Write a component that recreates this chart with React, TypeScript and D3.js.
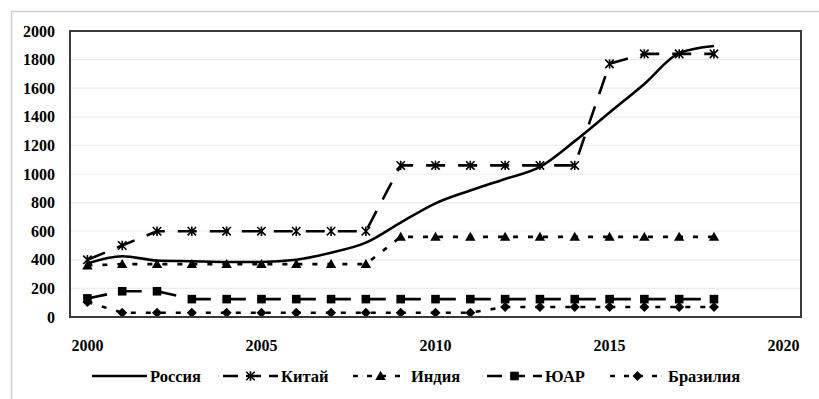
import React, { useEffect, useRef } from "react";
import * as d3 from "d3";

const years = [2000, 2001, 2002, 2003, 2004, 2005, 2006, 2007, 2008, 2009, 2010, 2011, 2012, 2013, 2014, 2015, 2016, 2017, 2018];
const russia = [375, 425, 395, 390, 385, 385, 400, 450, 520, 660, 795, 885, 965, 1050, 1230, 1430, 1630, 1845, 1895];
const china = [400, 500, 600, 600, 600, 600, 600, 600, 600, 1060, 1060, 1060, 1060, 1060, 1060, 1770, 1840, 1840, 1840];
const india = [360, 370, 370, 370, 370, 370, 370, 370, 370, 560, 560, 560, 560, 560, 560, 560, 560, 560, 560];
const sar = [130, 180, 180, 125, 125, 125, 125, 125, 125, 125, 125, 125, 125, 125, 125, 125, 125, 125, 125];
const brazil = [105, 30, 30, 30, 30, 30, 30, 30, 30, 30, 30, 30, 70, 70, 70, 70, 70, 70, 70];
const seriesNames = ["Россия", "Китай", "Индия", "ЮАР", "Бразилия"];
const yTicks = [0, 200, 400, 600, 800, 1000, 1200, 1400, 1600, 1800, 2000];
const xTicks = [2000, 2005, 2010, 2015, 2020];

const FONT = "'Liberation Serif', 'Times New Roman', serif";

export default function App() {
  const ref = useRef<SVGSVGElement>(null);

  useEffect(() => {
    const svg = d3.select(ref.current);
    svg.selectAll("*").remove();

    const left = 70, right = 801, top = 31, bottom = 317;
    const x = d3.scaleLinear().domain([1999.5, 2020.5]).range([left, right]);
    const y = d3.scaleLinear().domain([0, 2000]).range([bottom, top]);

    // outer frame
    svg.append("rect").attr("x", 11.5).attr("y", 11.5).attr("width", 830).attr("height", 420)
      .attr("fill", "#fff").attr("stroke", "#cfcfcf").attr("stroke-width", 1.5);

    // gridlines
    svg.append("g").selectAll("line").data(yTicks.filter(t => t > 0 && t < 2000)).join("line")
      .attr("x1", left).attr("x2", right)
      .attr("y1", d => y(d)).attr("y2", d => y(d))
      .attr("stroke", "#ececec").attr("stroke-width", 1.2);

    // y labels
    svg.append("g").selectAll("text").data(yTicks).join("text")
      .attr("x", 55).attr("y", d => y(d)).attr("dy", "0.35em")
      .attr("text-anchor", "end").attr("font-family", FONT).attr("font-weight", "bold")
      .attr("font-size", 16).text(d => String(d));

    // x labels
    svg.append("g").selectAll("text").data(xTicks).join("text")
      .attr("x", d => x(d)).attr("y", 345).attr("dy", "0.35em")
      .attr("text-anchor", "middle").attr("font-family", FONT).attr("font-weight", "bold")
      .attr("font-size", 16).text(d => String(d));

    type S = { name: string; vals: number[]; dash: string | null; marker: string | null; curve: any };
    const series: S[] = [
      { name: seriesNames[0], vals: russia, dash: null, marker: null, curve: d3.curveMonotoneX },
      { name: seriesNames[1], vals: china, dash: "19,13", marker: "star", curve: d3.curveLinear },
      { name: seriesNames[2], vals: india, dash: "5,10", marker: "triangle", curve: d3.curveLinear },
      { name: seriesNames[3], vals: sar, dash: "20,15", marker: "square", curve: d3.curveLinear },
      { name: seriesNames[4], vals: brazil, dash: "5,10", marker: "diamond", curve: d3.curveLinear },
    ];

    const drawMarker = (g: any, type: string | null, cx: number, cy: number) => {
      if (!type) return;
      if (type === "star") {
        const r = 4.2;
        g.append("path")
          .attr("d", `M${cx - r},${cy - r}L${cx + r},${cy + r}M${cx - r},${cy + r}L${cx + r},${cy - r}M${cx},${cy - r - 0.5}L${cx},${cy + r + 0.5}`)
          .attr("stroke", "#000").attr("stroke-width", 1.6).attr("fill", "none");
      } else if (type === "triangle") {
        const s = 5.2;
        g.append("path").attr("d", `M${cx},${cy - s}L${cx + s},${cy + s * 0.75}L${cx - s},${cy + s * 0.75}Z`).attr("fill", "#000");
      } else if (type === "square") {
        const s = 4.3;
        g.append("rect").attr("x", cx - s).attr("y", cy - s).attr("width", 2 * s).attr("height", 2 * s).attr("fill", "#000");
      } else if (type === "diamond") {
        const s = 5;
        g.append("path").attr("d", `M${cx},${cy - s}L${cx + s},${cy}L${cx},${cy + s}L${cx - s},${cy}Z`).attr("fill", "#000");
      }
    };

    const plot = svg.append("g");
    series.forEach(s => {
      const line = d3.line<number>().x((_, i) => x(years[i])).y(v => y(v)).curve(s.curve);
      const p = plot.append("path").attr("d", line(s.vals)).attr("fill", "none")
        .attr("stroke", "#000").attr("stroke-width", 2.6).attr("stroke-linejoin", "round");
      if (s.dash) p.attr("stroke-dasharray", s.dash);
      const mg = plot.append("g");
      s.vals.forEach((v, i) => drawMarker(mg, s.marker, x(years[i]), y(v)));
    });

    // plot border
    svg.append("rect").attr("x", left).attr("y", top).attr("width", right - left).attr("height", bottom - top)
      .attr("fill", "none").attr("stroke", "#3a3a3a").attr("stroke-width", 2);

    // legend
    const legendX = [92, 223, 353, 487, 610];
    const ly = 376;
    const leg = svg.append("g");
    series.forEach((s, i) => {
      const x0 = legendX[i];
      const lp = leg.append("path").attr("d", `M${x0},${ly}L${x0 + 55},${ly}`)
        .attr("stroke", "#000").attr("stroke-width", 2.6).attr("fill", "none");
      if (s.dash) {
        const legendDash = s.dash === "5,10" ? "5,9" : "15,8";
        lp.attr("stroke-dasharray", legendDash);
      }
      drawMarker(leg, s.marker, x0 + 27.5, ly);
      leg.append("text").attr("x", x0 + 58).attr("y", ly).attr("dy", "0.35em")
        .attr("font-family", FONT).attr("font-weight", "bold").attr("font-size", 16.5)
        .text(s.name);
    });
  }, []);

  return (
    <svg ref={ref} width={819} height={399} style={{ position: "absolute", left: 0, top: 0, background: "#fff" }} />
  );
}
